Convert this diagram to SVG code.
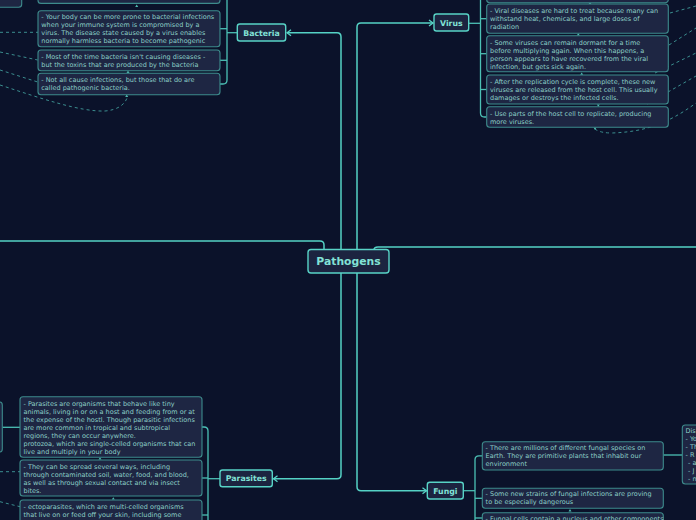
<svg xmlns="http://www.w3.org/2000/svg" width="696" height="520" viewBox="0 0 696 520">
<defs>
<style>
.bg{fill:#0b122a}
.main rect{fill:#1c2440;stroke:#58d3c6;stroke-width:1.4}
.main text{fill:#82e2d6;font-family:"DejaVu Sans",sans-serif;font-weight:bold;text-anchor:middle}
.box rect{fill:#1e2643;stroke:#3d8b8c;stroke-width:1.1}
.box text{fill:#8ccfc7;font-family:"DejaVu Sans",sans-serif;font-size:6.5px}
.ln{fill:none;stroke:#55d2c5;stroke-width:1.5}
.br{fill:none;stroke:#4cc0b5;stroke-width:1.3}
.ds{fill:none;stroke:#3b8e8f;stroke-width:1;stroke-dasharray:3,3}
.tri{fill:#4fb9b0}
</style>
<marker id="arr" markerWidth="8" markerHeight="8" refX="6.5" refY="4" orient="auto" markerUnits="userSpaceOnUse">
<path d="M2.5,1 L6.5,4 L2.5,7" fill="none" stroke="#58d3c6" stroke-width="1.3"/>
</marker>
</defs>
<rect class="bg" x="0" y="0" width="696" height="520"/>

<g id="connectors">
<path class="ln" d="M324,250 V245 Q324,241 320,241 H0"/>
<path class="ln" d="M374,250 Q374,247 378,247 H696"/>
<path class="ln" d="M341,250 V37 Q341,32.7 337,32.7 H287" marker-end="url(#arr)"/>
<path class="ln" d="M341,273 V474.7 Q341,478.7 337,478.7 H273.5" marker-end="url(#arr)"/>
<path class="ln" d="M357,250 V27 Q357,23 361,23 H433" marker-end="url(#arr)"/>
<path class="ln" d="M357,273 V486.7 Q357,490.7 361,490.7 H426.5" marker-end="url(#arr)"/>
<!-- brackets -->
<path class="br" d="M237.3,32.7 H227"/>
<path class="br" d="M227,-5 V80 Q227,84 223,84 H220"/>
<path class="br" d="M220,28.7 H227"/>
<path class="br" d="M220,60.3 H227"/>
<path class="br" d="M468.7,23.3 H480.5"/>
<path class="br" d="M480.5,-5 V113 Q480.5,117 484.5,117 H486.7"/>
<path class="br" d="M480.5,18.7 H486.7"/>
<path class="br" d="M480.5,53.7 H486.7"/>
<path class="br" d="M480.5,89.5 H486.7"/>
<path class="br" d="M220,478.7 H208"/>
<path class="br" d="M202,427 H204 Q208,427 208,431 V525"/>
<path class="br" d="M202,478 H208"/>
<path class="br" d="M202,515 H208"/>
<path class="br" d="M463.3,490.7 H475"/>
<path class="br" d="M482.3,455.8 H479 Q475,455.8 475,459.8 V525"/>
<path class="br" d="M475,498.3 H482.3"/>
<path class="br" d="M475,518 H482.3"/>
<path class="br" d="M663.3,455 H682.3"/>
<path class="br" d="M2.3,427.3 H20"/>
<!-- dashed relations -->
<path class="ds" d="M0,32.3 H38"/>
<path class="ds" d="M0,52 L37.7,60"/>
<path class="ds" d="M0,70 L37.7,82"/>
<path class="ds" d="M0,85 C40,98 80,112 105,111 C118,110 125,104 127,98"/>
<path class="ds" d="M670,13 L696,6"/>
<path class="ds" d="M669,45 L696,28"/>
<path class="ds" d="M655,73 L696,53"/>
<path class="ds" d="M647,104 L696,76"/>
<path class="ds" d="M595,129 Q600,133 612,133 C640,132 665,126 696,103"/>
<path class="ds" d="M0,471.7 H20"/>
<path class="ds" d="M0,501.7 L20,506.7"/>
<!-- tiny arrowheads -->
<path class="tri" d="M135.2,7 L136.7,4.6 L138.2,7 Z"/>
<path class="tri" d="M126.5,73 L128,70.6 L129.5,73 Z"/>
<path class="tri" d="M125.2,97 L126.7,94.6 L128.2,97 Z"/>
<path class="tri" d="M588.5,4.2 L590,2 L591.5,4.2 Z"/>
<path class="tri" d="M576.8,35.5 L578.3,33.1 L579.8,35.5 Z"/>
<path class="tri" d="M580.2,74.8 L581.7,72.4 L583.2,74.8 Z"/>
<path class="tri" d="M596.8,104.4 L598.3,106.8 L599.8,104.4 Z"/>
<path class="tri" d="M593.5,127.6 L595,130 L596.5,127.6 Z"/>
<path class="tri" d="M98.5,459.6 L100,457.2 L101.5,459.6 Z"/>
<path class="tri" d="M111.8,499.6 L113.3,497.2 L114.8,499.6 Z"/>
<path class="tri" d="M568.5,511.5 L570,509.1 L571.5,511.5 Z"/>
</g>

<g id="pathogens" class="main">
<rect x="308" y="249.5" width="81" height="23.5" rx="3"/>
<text x="348.5" y="265.3" font-size="10.8">Pathogens</text>
</g>
<g id="bacteria" class="main">
<rect x="237.3" y="24" width="48.4" height="17" rx="2.5"/>
<text x="261.5" y="35.5" font-size="7.8">Bacteria</text>
</g>
<g id="virus" class="main">
<rect x="434" y="14" width="34.7" height="17" rx="2.5"/>
<text x="451.3" y="25.5" font-size="7.8">Virus</text>
</g>
<g id="parasites" class="main">
<rect x="220" y="470" width="52.3" height="16.7" rx="2.5"/>
<text x="246.2" y="481.4" font-size="7.8">Parasites</text>
</g>
<g id="fungi" class="main">
<rect x="427.3" y="482.3" width="36" height="16.7" rx="2.5"/>
<text x="445.3" y="493.6" font-size="7.8">Fungi</text>
</g>

<g id="left-top-node" class="box">
<rect x="-20" y="-20" width="41.7" height="27.3" rx="3"/>
</g>
<g id="left-mid-node" class="box">
<rect x="-40" y="402" width="42.3" height="50" rx="3"/>
</g>

<g id="bacteria-0" class="box">
<rect x="38" y="-20" width="182" height="23.4" rx="3"/>
</g>
<g id="bacteria-1" class="box">
<rect x="38" y="10.7" width="182" height="36" rx="3"/>
<text x="41.3" y="18.5">- Your body can be more prone to bacterial infections</text>
<text x="41.3" y="26.5">when your immune system is compromised by a</text>
<text x="41.3" y="34.5">virus. The disease state caused by a virus enables</text>
<text x="41.3" y="42.5">normally harmless bacteria to become pathogenic</text>
</g>
<g id="bacteria-2" class="box">
<rect x="38" y="50" width="182" height="20.7" rx="3"/>
<text x="41.3" y="59">- Most of the time bacteria isn't causing diseases -</text>
<text x="41.3" y="67">but the toxins that are produced by the bacteria</text>
</g>
<g id="bacteria-3" class="box">
<rect x="38" y="73.3" width="182" height="21.4" rx="3"/>
<text x="41.3" y="82.2">- Not all cause infections, but those that do are</text>
<text x="41.3" y="90.2">called pathogenic bacteria.</text>
</g>

<g id="virus-0" class="box">
<rect x="486.7" y="-20" width="181.6" height="22.7" rx="3"/>
</g>
<g id="virus-1" class="box">
<rect x="486.7" y="4" width="181.6" height="29.3" rx="3"/>
<text x="490" y="12.5">- Viral diseases are hard to treat because many can</text>
<text x="490" y="20.5">withstand heat, chemicals, and large doses of</text>
<text x="490" y="28.5">radiation</text>
</g>
<g id="virus-2" class="box">
<rect x="486.7" y="35.7" width="181.6" height="36" rx="3"/>
<text x="490" y="44.9">- Some viruses can remain dormant for a time</text>
<text x="490" y="52.9">before multiplying again. When this happens, a</text>
<text x="490" y="60.9">person appears to have recovered from the viral</text>
<text x="490" y="68.9">infection, but gets sick again.</text>
</g>
<g id="virus-3" class="box">
<rect x="486.7" y="75" width="181.6" height="29" rx="3"/>
<text x="490" y="83.5">- After the replication cycle is complete, these new</text>
<text x="490" y="91.5">viruses are released from the host cell. This usually</text>
<text x="490" y="99.5">damages or destroys the infected cells.</text>
</g>
<g id="virus-4" class="box">
<rect x="486.7" y="106.7" width="181.6" height="20.6" rx="3"/>
<text x="490" y="115.9">- Use parts of the host cell to replicate, producing</text>
<text x="490" y="123.9">more viruses.</text>
</g>

<g id="parasites-1" class="box">
<rect x="20" y="396.7" width="182" height="60.6" rx="3"/>
<text x="23.5" y="405.8">- Parasites are organisms that behave like tiny</text>
<text x="23.5" y="413.6">animals, living in or on a host and feeding from or at</text>
<text x="23.5" y="421.6">the expense of the hostl. Though parasitic infections</text>
<text x="23.5" y="429.6">are more common in tropical and subtropical</text>
<text x="23.5" y="437.6">regions, they can occur anywhere.</text>
<text x="23.5" y="445.6">protozoa, which are single-celled organisms that can</text>
<text x="23.5" y="453.6">live and multiply in your body</text>
</g>
<g id="parasites-2" class="box">
<rect x="20" y="460" width="182" height="36" rx="3"/>
<text x="23.5" y="469">- They can be spread several ways, including</text>
<text x="23.5" y="477">through contaminated soil, water, food, and blood,</text>
<text x="23.5" y="485">as well as through sexual contact and via insect</text>
<text x="23.5" y="493">bites.</text>
</g>
<g id="parasites-3" class="box">
<rect x="20" y="500" width="182" height="30" rx="3"/>
<text x="23.5" y="509">- ectoparasites, which are multi-celled organisms</text>
<text x="23.5" y="517">that live on or feed off your skin, including some</text>
</g>

<g id="fungi-1" class="box">
<rect x="482.3" y="441.7" width="181" height="28.3" rx="3"/>
<text x="485.6" y="449.6">- There are millions of different fungal species on</text>
<text x="485.6" y="457.6">Earth. They are primitive plants that inhabit our</text>
<text x="485.6" y="465.6">environment</text>
</g>
<g id="fungi-2" class="box">
<rect x="482.3" y="488.3" width="181" height="20" rx="3"/>
<text x="485.6" y="496.3">- Some new strains of fungal infections are proving</text>
<text x="485.6" y="504.3">to be especially dangerous</text>
</g>
<g id="fungi-3" class="box">
<rect x="482.3" y="512.7" width="181" height="20" rx="3"/>
<text x="485.6" y="520.5">- Fungal cells contain a nucleus and other components</text>
</g>
<g id="fungi-right" class="box">
<rect x="682.3" y="425" width="40" height="59" rx="3"/>
<text x="685.5" y="433">Dis</text>
<text x="685.5" y="441.2">- Yo</text>
<text x="685.5" y="449.2">- Th</text>
<text x="685.5" y="457">- R</text>
<text x="688" y="465">- a</text>
<text x="688" y="473">- J</text>
<text x="688" y="480.5">- n</text>
</g>
</svg>
